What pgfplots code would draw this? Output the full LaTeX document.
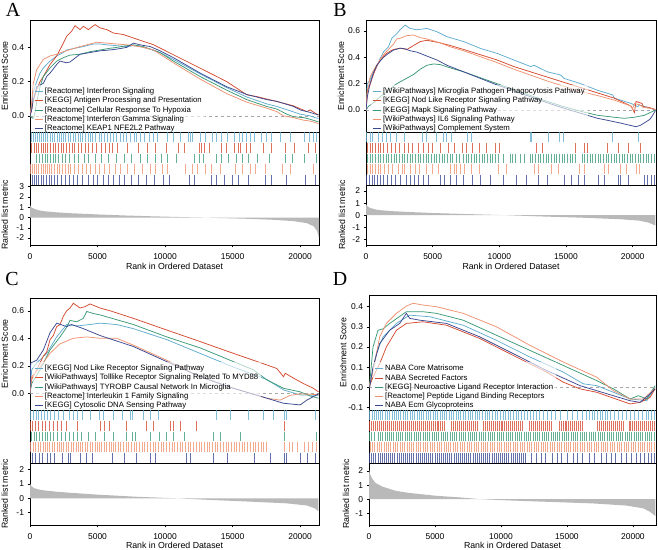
\documentclass[border=0pt]{standalone}
\usepackage{fontspec}
\setmainfont{Liberation Sans}
\newfontfamily\letterfont{Liberation Serif}
\usepackage{pgfplots}
\pgfplotsset{compat=1.18}
\definecolor{lb}{RGB}{96,172,206}
\definecolor{rd}{RGB}{213,73,46}
\definecolor{gr}{RGB}{58,153,118}
\definecolor{sa}{RGB}{238,146,112}
\definecolor{nv}{RGB}{58,72,146}
\pgfplotsset{
  base/.style={scale only axis, anchor=north west, axis line style={line width=0.6pt},
    tick align=outside, major tick length=2.5pt, every tick/.style={black,line width=0.5pt},
    /pgf/number format/assume math mode=true,
    tick label style={font=\fontsize{8.5}{10}\selectfont},
    label style={font=\fontsize{8.8}{10}\selectfont}, xmin=0},
  es/.style={base, xtick=\empty, ytick pos=left, ylabel={Enrichment Score},
    yticklabel style={/pgf/number format/.cd, fixed, fixed zerofill, precision=1},
    legend style={draw=none, fill=white, fill opacity=0.6, text opacity=1,
      font=\fontsize{7.8}{8}\selectfont, anchor=south west, row sep=-2pt, inner sep=1pt},
    legend cell align=left,
    legend image code/.code={\draw[##1, line width=0.9pt] (0bp,0bp) -- (8bp,0bp);},
    every axis plot/.append style={line width=0.75pt}},
  strip/.style={base, xtick=\empty, ytick=\empty, ymin=0, ymax=5, height=53bp},
  metric/.style={base, xtick={0,5000,10000,15000,20000}, xtick pos=bottom, ytick pos=left,
    xlabel={Rank in Ordered Dataset}, ylabel={Ranked list metric},
    xticklabel style={yshift=-2.5bp},
    /pgf/number format/1000 sep={}, scaled x ticks=false}
}
\newcommand{\hits}[3]{\addplot[#1, only marks, mark=|, mark size=4.9bp, mark options={line width=#2, opacity=0.78}] table[x index=0, y expr=#3, row sep=\\]}
\begin{document}
\begin{tikzpicture}
\path[use as bounding box] (0,0) rectangle (658bp,-550bp);
\node[font=\letterfont\fontsize{20}{20}\selectfont] at (13bp,-10bp) {A};
\node[font=\letterfont\fontsize{20}{20}\selectfont] at (340bp,-10bp) {B};
\node[font=\letterfont\fontsize{20}{20}\selectfont] at (12bp,-279bp) {C};
\node[font=\letterfont\fontsize{20}{20}\selectfont] at (340bp,-279bp) {D};

%================ PANEL A
\begin{axis}[es, at={(30bp,-20bp)}, width=289bp, height=112bp, xmax=21400, ymin=-0.094, ymax=0.56,
  ytick={0,0.2,0.4}, ylabel style={at={(axis description cs:-0.087,0.5)}, anchor=center},
  legend style={at={(0.01,-0.027)}}]
\addplot[gray!70, dashed, line width=0.6pt, forget plot] coordinates {(0,0) (21400,0)};
\addplot[lb] coordinates {(0,0) (124,0.06) (247,0.14) (494,0.2) (741,0.25) (988,0.28) (1482,0.32) (1976,0.35) (2470,0.37) (2717,0.385) (3335,0.395) (3952,0.405) (4693,0.42) (5187,0.42) (5681,0.415) (6422,0.41) (7164,0.405) (7657,0.41) (8151,0.405) (8892,0.39) (9633,0.37) (10621,0.33) (12597,0.245) (14573,0.165) (16055,0.11) (17537,0.07) (18278,0.055) (19266,0.03) (20007,0.01) (20748,0.0) (21100,-0.01) (21366,-0.015)};
\addlegendentry{[Reactome] Interferon Signaling}
\addplot[rd] coordinates {(0,0) (124,0.035) (247,0.094) (494,0.152) (741,0.2) (988,0.23) (1482,0.3) (1976,0.35) (2470,0.425) (2717,0.465) (3088,0.495) (3335,0.527) (3705,0.504) (3952,0.523) (4323,0.504) (4817,0.533) (5187,0.514) (5681,0.504) (6175,0.484) (6916,0.475) (7657,0.455) (8398,0.435) (9139,0.416) (9633,0.396) (10621,0.357) (12597,0.279) (14573,0.2) (16055,0.123) (16796,0.113) (18278,0.084) (19513,0.059) (20501,0.025) (20748,0.035) (21118,0.016) (21366,0.006)};
\addlegendentry{[KEGG] Antigen Processing and Presentation}
\addplot[gr] coordinates {(0,0) (124,-0.01) (247,-0.015) (370,0.02) (494,0.08) (741,0.17) (988,0.23) (1482,0.28) (1976,0.32) (2470,0.34) (2964,0.355) (3705,0.36) (4446,0.375) (5187,0.385) (5928,0.395) (6422,0.4) (7164,0.41) (7657,0.415) (8398,0.405) (8892,0.39) (9633,0.37) (10621,0.32) (12597,0.23) (14573,0.15) (16055,0.095) (17537,0.055) (18278,0.04) (19019,0.01) (19513,-0.005) (20254,-0.01) (20748,-0.02) (21366,-0.035)};
\addlegendentry{[Reactome] Cellular Response To Hypoxia}
\addplot[sa] coordinates {(0,0) (124,0.08) (247,0.19) (494,0.27) (741,0.3) (988,0.33) (1482,0.35) (1976,0.36) (2470,0.375) (3088,0.39) (3705,0.405) (4446,0.42) (4940,0.43) (5681,0.425) (6422,0.42) (7164,0.415) (7657,0.41) (8398,0.4) (9139,0.385) (9633,0.36) (10621,0.31) (12597,0.215) (14573,0.13) (16055,0.08) (17537,0.045) (18278,0.025) (18772,0.0) (19513,-0.01) (20254,-0.025) (20748,-0.03) (21366,-0.045)};
\addlegendentry{[Reactome] Interferon Gamma Signaling}
\addplot[nv] coordinates {(0,0) (124,0.035) (247,0.09) (494,0.17) (741,0.18) (988,0.19) (1235,0.23) (1482,0.25) (1976,0.3) (2223,0.32) (2717,0.31) (2964,0.315) (3458,0.345) (3705,0.36) (4446,0.37) (5187,0.38) (5928,0.385) (6422,0.39) (7164,0.4) (7657,0.425) (8151,0.415) (8892,0.405) (9633,0.38) (10621,0.34) (12597,0.25) (14573,0.17) (16055,0.125) (17537,0.095) (18278,0.085) (19513,0.055) (20007,0.035) (20748,0.02) (21366,0.005)};
\addlegendentry{[Reactome] KEAP1 NFE2L2 Pathway}
\end{axis}
\begin{axis}[strip, at={(30bp,-132bp)}, width=289bp, xmax=21400]
\hits{lb}{0.6pt}{4.5}{x\\80\\250\\400\\520\\700\\850\\1000\\1150\\1300\\1500\\1650\\1800\\2000\\2150\\2300\\2500\\2650\\2850\\3000\\3200\\3350\\3550\\3700\\3900\\4100\\4300\\4450\\4650\\4850\\5100\\5300\\5500\\5750\\5950\\6200\\6400\\6650\\6900\\7100\\7400\\7700\\7900\\8200\\8500\\8800\\9100\\9400\\10200\\10600\\11100\\11700\\11850\\12000\\12600\\13000\\13500\\13800\\14200\\14600\\15100\\15500\\15700\\16000\\16300\\16600\\17100\\17500\\17900\\18500\\19300\\20300\\20700\\21000\\21200\\};
\hits{rd}{0.6pt}{3.5}{x\\100\\300\\450\\600\\800\\950\\1150\\1300\\1500\\1700\\1900\\2100\\2300\\2500\\2700\\2900\\3100\\3300\\3600\\3800\\4100\\4300\\4600\\4900\\5300\\5600\\5900\\6100\\6500\\7200\\8000\\8700\\9300\\10100\\11000\\11400\\12500\\12700\\12900\\13300\\14200\\14500\\15100\\15400\\15600\\16000\\16300\\17300\\17900\\18900\\19600\\20600\\21100\\};
\hits{gr}{0.6pt}{2.5}{x\\500\\700\\900\\1100\\1300\\1500\\1700\\1900\\2100\\2400\\2600\\2900\\3300\\3600\\4000\\4300\\4800\\5300\\5800\\6400\\7000\\7500\\8200\\8700\\9300\\9700\\10200\\10800\\12200\\12500\\12800\\13800\\14200\\14700\\15300\\15700\\16200\\16800\\17700\\18900\\19400\\20300\\21200\\};
\hits{sa}{0.6pt}{1.5}{x\\50\\200\\350\\500\\650\\800\\950\\1100\\1250\\1400\\1600\\1800\\2000\\2200\\2400\\2600\\2800\\3000\\3300\\3600\\3900\\4200\\4500\\4800\\5100\\5500\\5900\\6300\\6700\\7200\\7700\\8300\\8900\\9300\\9800\\10200\\11500\\12000\\12400\\13000\\13400\\14100\\15200\\15700\\16300\\16700\\17400\\18700\\19300\\21000\\};
\hits{nv}{0.6pt}{0.5}{x\\150\\300\\450\\650\\800\\1000\\1200\\1400\\1600\\1800\\2000\\2300\\2600\\2900\\3200\\3500\\3900\\4300\\4700\\5000\\5400\\5800\\6200\\6600\\7000\\7500\\8000\\8600\\9200\\9900\\10300\\11800\\12200\\13400\\13800\\14400\\15000\\15400\\16200\\17400\\17900\\19000\\20400\\21100\\};
\end{axis}
\begin{axis}[metric, at={(30bp,-185bp)}, width=289bp, height=60bp, xmax=21400, ymin=-2.68, ymax=3.17,
  ytick={-2,-1,0,1,2,3}, ylabel style={at={(axis description cs:-0.087,0.5)}, anchor=center},
  xlabel style={at={(axis description cs:0.5,-0.36)}, anchor=center}]
\addplot[fill=gray!55, draw=none] coordinates {(0,1.2) (100,1.0) (300,0.85) (600,0.72) (1000,0.62) (2000,0.5) (3000,0.42) (5000,0.3) (7000,0.2) (9000,0.12) (11000,0.05) (12800,0) (14000,-0.05) (16000,-0.12) (18000,-0.22) (19500,-0.35) (20500,-0.55) (21000,-0.85) (21250,-1.3) (21400,-1.95)} \closedcycle;
\end{axis}

%================ PANEL B
\begin{axis}[es, at={(366bp,-20bp)}, width=290bp, height=112bp, xmax=21750, ymin=-0.167, ymax=0.684,
  ytick={0,0.2,0.4,0.6}, ylabel style={at={(axis description cs:-0.086,0.5)}, anchor=center},
  legend style={at={(0.017,-0.027)}}]
\addplot[gray!70, dashed, line width=0.6pt, forget plot] coordinates {(0,0) (21750,0)};
\addplot[lb] coordinates {(0,0) (100,0.2) (301,0.23) (552,0.29) (803,0.33) (1054,0.39) (1305,0.44) (1682,0.48) (1933,0.545) (2309,0.58) (2560,0.61) (2937,0.645) (3313,0.62) (3815,0.61) (4568,0.62) (5321,0.595) (6074,0.557) (7329,0.52) (8584,0.468) (9839,0.43) (11094,0.38) (12349,0.33) (12600,0.34) (13604,0.29) (14608,0.266) (14859,0.24) (16114,0.2) (17369,0.15) (18500,0.115) (18624,0.09) (19879,0.05) (20381,0.025) (20500,0.04) (21700,0)};
\addlegendentry{[WikiPathways] Microglia Pathogen Phagocytosis Pathway}
\addplot[rd] coordinates {(0,0) (100,0.15) (301,0.19) (552,0.27) (803,0.33) (1054,0.38) (1305,0.41) (1682,0.44) (2058,0.46) (2560,0.47) (3063,0.46) (3564,0.49) (4066,0.52) (4568,0.53) (5070,0.52) (5572,0.51) (6325,0.49) (7329,0.46) (8584,0.42) (9839,0.38) (11094,0.33) (12349,0.29) (13604,0.25) (14859,0.21) (16114,0.17) (17369,0.13) (18624,0.09) (19879,0.03) (20130,-0.02) (20250,0.065) (20700,0.05) (20800,0.025) (21200,0.02) (21700,0.005)};
\addlegendentry{[KEGG] Nod Like Receptor Signaling Pathway}
\addplot[gr] coordinates {(0,0) (200,0.03) (500,0.05) (1054,0.1) (1682,0.15) (2309,0.2) (2937,0.235) (3564,0.27) (4066,0.31) (4568,0.34) (5070,0.35) (5572,0.345) (6325,0.32) (7329,0.29) (8584,0.245) (9839,0.2) (11094,0.155) (12349,0.11) (13604,0.065) (14859,0.025) (16114,-0.01) (17369,-0.04) (18624,-0.055) (19377,-0.063) (20130,-0.055) (20883,-0.04) (21300,-0.02) (21700,0)};
\addlegendentry{[KEGG] Mapk Signaling Pathway}
\addplot[sa] coordinates {(0,0) (100,0.12) (301,0.25) (552,0.3) (803,0.34) (1054,0.38) (1305,0.42) (1682,0.46) (2058,0.5) (2309,0.54) (2560,0.545) (3063,0.565) (3564,0.57) (4066,0.55) (4568,0.54) (5070,0.525) (5572,0.51) (6325,0.48) (7329,0.45) (8584,0.405) (9839,0.36) (11094,0.31) (12349,0.265) (13604,0.22) (14859,0.18) (16114,0.14) (17369,0.11) (18624,0.075) (19879,0.03) (20000,0.01) (20130,0.05) (20500,0.04) (20800,0.02) (21200,0.015) (21700,0.005)};
\addlegendentry{[WikiPathways] IL6 Signaling Pathway}
\addplot[nv] coordinates {(0,0) (100,0.1) (301,0.2) (552,0.28) (803,0.34) (1054,0.37) (1305,0.4) (1682,0.43) (2058,0.455) (2560,0.47) (2937,0.465) (3313,0.45) (3815,0.44) (4568,0.41) (5321,0.38) (6074,0.34) (7329,0.29) (8584,0.24) (9839,0.19) (11094,0.145) (12349,0.1) (13604,0.055) (14859,0.013) (16114,-0.025) (17369,-0.063) (18200,-0.08) (19126,-0.1) (20256,-0.127) (20600,-0.115) (21000,-0.09) (21300,-0.07) (21500,-0.04) (21700,-0.005)};
\addlegendentry{[WikiPathways] Complement System}
\end{axis}
\begin{axis}[strip, at={(366bp,-132bp)}, width=290bp, xmax=21750]
\hits{lb}{0.6pt}{4.5}{x\\50\\300\\500\\900\\1200\\1500\\1800\\2300\\2900\\4200\\4500\\5300\\5800\\6000\\6400\\7600\\7900\\12300\\12400\\13700\\14500\\14800\\18500\\20400\\};
\hits{rd}{0.6pt}{3.5}{x\\100\\300\\500\\700\\900\\1100\\1300\\1600\\1900\\2200\\2500\\2900\\3200\\3500\\3900\\4300\\4700\\5000\\5600\\6200\\6600\\7200\\7500\\8000\\8500\\9000\\9700\\10000\\12800\\13200\\15700\\16400\\16600\\18100\\18900\\19700\\20600\\};
\hits{gr}{0.9pt}{2.5}{x\\100\\300\\500\\700\\900\\1100\\1300\\1500\\1700\\1900\\2100\\2300\\2500\\2700\\2900\\3100\\3300\\3500\\3700\\3900\\4100\\4300\\4500\\4700\\4900\\5100\\5300\\5500\\5700\\5900\\6100\\6300\\6500\\6800\\7000\\7300\\7500\\7700\\7900\\8100\\8300\\8500\\8700\\8900\\9100\\9300\\9500\\9700\\9900\\10300\\10800\\11000\\11200\\11600\\11900\\12300\\12500\\12700\\12900\\13100\\13300\\13500\\13700\\13900\\14100\\14300\\14500\\14700\\14900\\15100\\15300\\15500\\15700\\16200\\16400\\16600\\16800\\17000\\17200\\17400\\17600\\17800\\18000\\18200\\18400\\18600\\18800\\19000\\19200\\19400\\19600\\19800\\20000\\20200\\20400\\20600\\20800\\21000\\21200\\21400\\21600\\};
\hits{sa}{0.6pt}{1.5}{x\\100\\300\\500\\700\\900\\1100\\1400\\1700\\2000\\2400\\2700\\2900\\3300\\3700\\4000\\4500\\5000\\5400\\6300\\6600\\6800\\7100\\7400\\7900\\8500\\9900\\10500\\12600\\12900\\13900\\14400\\16000\\16400\\17900\\18200\\19100\\19500\\20300\\20500\\};
\hits{nv}{0.6pt}{0.5}{x\\50\\250\\450\\650\\850\\1050\\1300\\1600\\1900\\2200\\2600\\3000\\3300\\3600\\3900\\4300\\4700\\5600\\5900\\6300\\6800\\7300\\8000\\8600\\9300\\10300\\11300\\12000\\12900\\13600\\14900\\15400\\15900\\16400\\17400\\17900\\18900\\19100\\19700\\20900\\21100\\21400\\21600\\};
\end{axis}
\begin{axis}[metric, at={(366bp,-185bp)}, width=290bp, height=60bp, xmax=21750, ymin=-2.47, ymax=2.5,
  ytick={-2,-1,0,1,2}, ylabel style={at={(axis description cs:-0.083,0.5)}, anchor=center},
  xlabel style={at={(axis description cs:0.5,-0.36)}, anchor=center}]
\addplot[fill=gray!55, draw=none] coordinates {(0,0.9) (100,0.75) (300,0.6) (700,0.48) (1000,0.42) (2000,0.33) (3500,0.25) (5000,0.18) (8000,0.08) (10500,0) (13000,-0.1) (16000,-0.2) (19000,-0.33) (20500,-0.45) (21200,-0.62) (21700,-0.85)} \closedcycle;
\end{axis}

%================ PANEL C
\begin{axis}[es, at={(30bp,-298bp)}, width=289bp, height=112bp, xmax=21400, ymin=-0.122, ymax=0.693,
  ytick={0,0.2,0.4,0.6}, ylabel style={at={(axis description cs:-0.087,0.5)}, anchor=center},
  legend style={at={(0.01,-0.018)}}]
\addplot[gray!70, dashed, line width=0.6pt, forget plot] coordinates {(0,0) (21400,0)};
\addplot[lb] coordinates {(0,0) (124,0.17) (494,0.22) (1235,0.29) (1976,0.41) (2717,0.5) (3500,0.49) (4446,0.5) (5187,0.51) (6422,0.5) (7657,0.47) (10127,0.39) (12597,0.29) (15067,0.19) (17537,0.1) (18772,0.024) (20007,-0.012) (21366,-0.015)};
\addlegendentry{[KEGG] Nod Like Receptor Signaling Pathway}
\addplot[rd] coordinates {(0,0) (124,0.1) (494,0.17) (988,0.27) (1235,0.3) (1482,0.39) (1729,0.42) (1976,0.485) (2223,0.5) (2470,0.56) (2717,0.6) (2964,0.62) (3211,0.655) (3705,0.62) (4076,0.63) (4446,0.65) (5187,0.62) (5928,0.6) (7657,0.545) (10127,0.46) (12597,0.376) (15067,0.29) (17537,0.206) (18278,0.18) (18772,0.12) (18900,0.145) (19513,0.11) (20254,0.07) (21000,0.035) (21366,0.01)};
\addlegendentry{[WikiPathways] Tolllike Receptor Signaling Related To MYD88}
\addplot[gr] coordinates {(0,0) (124,0.07) (741,0.17) (1482,0.315) (2223,0.41) (2717,0.48) (2964,0.53) (3458,0.52) (3952,0.545) (4200,0.595) (4693,0.58) (5187,0.57) (7657,0.5) (10127,0.41) (12597,0.33) (15067,0.23) (16549,0.17) (17537,0.097) (18772,0.036) (20007,0.01) (20748,-0.02) (21366,-0.036)};
\addlegendentry{[WikiPathways] TYROBP Causal Network In Microglia}
\addplot[sa] coordinates {(0,0) (124,0.12) (741,0.19) (1482,0.29) (2223,0.36) (3211,0.4) (4199,0.41) (5187,0.4) (6422,0.4) (7657,0.35) (10127,0.24) (12597,0.12) (15067,0.036) (17537,-0.036) (18525,-0.05) (19266,-0.015) (20007,-0.005) (21366,-0.01)};
\addlegendentry{[Reactome] Interleukin 1 Family Signaling}
\addplot[nv] coordinates {(0,0) (50,0.22) (494,0.24) (988,0.315) (1482,0.44) (1976,0.51) (2717,0.485) (3088,0.5) (3952,0.47) (5187,0.42) (7657,0.34) (10127,0.23) (12597,0.12) (15067,0.036) (17537,-0.036) (18772,-0.073) (20007,-0.085) (20501,-0.05) (21366,-0.005)};
\addlegendentry{[KEGG] Cytosolic DNA Sensing Pathway}
\end{axis}
\begin{axis}[strip, at={(30bp,-410bp)}, width=289bp, xmax=21400]
\hits{lb}{0.6pt}{4.5}{x\\50\\250\\450\\650\\850\\1050\\1250\\1500\\1800\\2100\\2500\\2900\\3200\\3500\\3900\\4500\\5100\\5400\\6200\\6800\\7400\\7600\\8400\\8900\\9500\\13800\\14800\\16200\\17300\\18000\\18800\\19000\\21100\\};
\hits{rd}{0.6pt}{3.5}{x\\50\\200\\400\\600\\900\\1100\\1400\\1700\\2000\\2300\\2700\\3500\\5200\\5500\\5900\\7100\\8600\\9100\\10400\\10600\\11100\\12300\\18800\\};
\hits{gr}{0.6pt}{2.5}{x\\100\\300\\500\\700\\900\\1100\\1300\\1500\\1700\\2000\\2300\\2600\\2900\\3200\\3500\\3800\\4300\\4800\\5500\\6200\\7100\\7600\\7800\\8900\\9600\\10100\\10600\\11400\\13600\\14100\\15600\\18800\\21200\\};
\hits{sa}{0.6pt}{1.5}{x\\50\\250\\400\\600\\750\\950\\1100\\1300\\1450\\1650\\1800\\2000\\2150\\2350\\2500\\2700\\2850\\3050\\3200\\3400\\3550\\3750\\3900\\4100\\4250\\4450\\4600\\4800\\4950\\5150\\5300\\5500\\5650\\5850\\6000\\6200\\6350\\6550\\6700\\6900\\7100\\7300\\7500\\7700\\7900\\8100\\8300\\8500\\8700\\8900\\9100\\9300\\9500\\9700\\9900\\10100\\10300\\10500\\10700\\10900\\11100\\11300\\11500\\11700\\11900\\12100\\12300\\12500\\12700\\12900\\13100\\13300\\13500\\13700\\13900\\14100\\14300\\14500\\14700\\14900\\15100\\15300\\15500\\15700\\15900\\16100\\16300\\16500\\16700\\16900\\17100\\17300\\17500\\18800\\19200\\19400\\19800\\20300\\20600\\20900\\21200\\};
\hits{nv}{0.6pt}{0.5}{x\\150\\400\\700\\900\\1300\\1500\\1800\\2400\\2800\\3000\\3700\\4200\\4600\\6100\\7000\\7900\\8900\\9300\\11600\\11900\\13600\\14600\\16600\\17800\\18800\\19000\\20000\\20500\\21100\\};
\end{axis}
\begin{axis}[metric, at={(30bp,-463bp)}, width=289bp, height=62bp, xmax=21400, ymin=-1.85, ymax=2.44,
  ytick={-1,0,1,2}, ylabel style={at={(axis description cs:-0.087,0.5)}, anchor=center},
  xlabel style={at={(axis description cs:0.5,-0.325)}, anchor=center}]
\addplot[fill=gray!55, draw=none] coordinates {(0,1.0) (100,0.85) (300,0.7) (700,0.6) (1000,0.55) (2000,0.45) (3000,0.38) (5000,0.25) (8000,0.1) (10800,0) (13000,-0.1) (16000,-0.22) (19000,-0.35) (20500,-0.5) (21100,-0.7) (21350,-0.9)} \closedcycle;
\end{axis}

%================ PANEL D
\begin{axis}[es, at={(369bp,-295bp)}, width=287bp, height=115bp, xmax=21750, ymin=-0.113, ymax=0.458,
  ytick={-0.1,0,0.1,0.2,0.3,0.4}, ylabel style={at={(axis description cs:-0.09,0.5)}, anchor=center},
  legend style={at={(0.014,-0.018)}}]
\addplot[gray!70, dashed, line width=0.6pt, forget plot] coordinates {(0,0) (21750,0)};
\addplot[lb] coordinates {(0,0) (177,0.05) (557,0.167) (1063,0.25) (2075,0.317) (3087,0.358) (4605,0.35) (7135,0.308) (9665,0.233) (12195,0.15) (14725,0.075) (16243,0.017) (17255,0.008) (19785,-0.058) (21050,-0.067) (21682,0)};
\addlegendentry{NABA Core Matrisome}
\addplot[rd] coordinates {(0,0) (304,0.05) (810,0.117) (1316,0.2) (2075,0.283) (2834,0.317) (4099,0.325) (5870,0.308) (8400,0.242) (10930,0.158) (13460,0.075) (14725,0.025) (15990,-0.008) (17255,-0.025) (19785,-0.083) (20544,-0.075) (21303,-0.05) (21682,-0.008)};
\addlegendentry{NABA Secreted Factors}
\addplot[gr] coordinates {(0,0) (51,0.017) (304,0.2) (683,0.283) (1063,0.29) (1569,0.317) (2834,0.375) (4099,0.375) (5111,0.367) (7135,0.333) (9665,0.258) (12195,0.183) (14725,0.108) (17255,0.033) (18520,-0.008) (19785,-0.058) (20418,-0.042) (21050,-0.058) (21682,0.008)};
\addlegendentry{[KEGG] Neuroactive Ligand Receptor Interaction}
\addplot[sa] coordinates {(0,0) (51,0.017) (304,0.08) (810,0.25) (1316,0.317) (2075,0.367) (2834,0.403) (3340,0.417) (4099,0.408) (5111,0.4) (7135,0.367) (9665,0.3) (12195,0.208) (14725,0.125) (17255,0.05) (18520,-0.017) (19785,-0.058) (20797,-0.058) (21682,-0.005)};
\addlegendentry{[Reactome] Peptide Ligand Binding Receptors}
\addplot[nv] coordinates {(0,0) (51,0.0) (304,0.1) (810,0.217) (1569,0.283) (2328,0.317) (2834,0.367) (3087,0.342) (3846,0.333) (5870,0.317) (8400,0.25) (10930,0.167) (13460,0.083) (15990,0.008) (17255,-0.017) (19785,-0.067) (20544,-0.075) (21303,-0.033) (21682,-0.008)};
\addlegendentry{NABA Ecm Glycoproteins}
\end{axis}
\begin{axis}[strip, at={(369bp,-410bp)}, width=287bp, xmax=21750]
\hits{lb}{0.8pt}{4.5}{x\\60\\230\\380\\560\\700\\900\\1050\\1230\\1400\\1560\\1750\\1900\\2080\\2250\\2400\\2600\\2780\\2930\\3100\\3300\\3450\\3640\\3800\\3980\\4150\\4320\\4500\\4650\\4850\\5000\\5200\\5380\\5550\\5700\\5900\\6080\\6250\\6420\\6600\\6780\\6950\\7150\\7300\\7500\\7680\\7850\\8050\\8200\\8400\\8600\\8800\\9000\\9150\\9350\\9550\\9750\\9950\\10150\\10350\\10550\\10750\\10950\\11150\\11350\\11550\\11800\\12000\\12200\\12450\\12700\\12950\\13200\\13500\\13800\\14100\\14500\\15000\\15400\\15800\\16200\\16500\\16700\\16900\\17100\\17300\\17500\\17700\\17900\\18100\\18300\\18600\\18900\\19200\\19500\\19800\\20100\\20400\\20700\\21000\\21200\\21400\\21600\\};
\hits{rd}{0.9pt}{3.5}{x\\40\\200\\350\\500\\650\\800\\950\\1100\\1250\\1400\\1550\\1700\\1850\\2000\\2150\\2300\\2450\\2600\\2750\\2900\\3050\\3200\\3350\\3500\\3650\\3800\\3950\\4100\\4250\\4400\\4550\\4700\\4850\\5000\\5150\\5300\\5450\\5600\\5750\\6250\\6400\\6550\\6700\\6850\\7000\\7150\\7300\\7450\\7600\\7750\\7900\\8050\\8200\\8650\\8800\\8950\\9100\\9250\\9400\\9550\\9700\\9850\\10000\\10150\\10300\\10450\\10600\\10750\\10900\\11050\\11200\\11350\\11500\\11650\\12150\\12300\\12450\\12600\\12750\\12900\\13050\\13200\\13350\\13500\\13650\\13800\\14400\\14550\\14700\\14850\\15000\\15150\\15300\\15450\\15600\\15750\\15900\\16050\\16200\\17300\\17450\\17600\\17750\\17900\\18050\\18200\\18350\\18500\\18650\\18800\\18950\\19100\\19250\\19700\\19850\\20000\\20150\\20300\\20450\\20600\\20750\\20900\\21050\\21200\\21350\\21500\\21650\\};
\hits{gr}{0.9pt}{2.5}{x\\50\\220\\400\\700\\870\\1040\\1210\\1380\\1550\\1720\\1890\\2060\\2230\\2400\\2570\\2740\\2910\\3080\\3250\\3420\\3590\\3760\\3930\\4100\\4270\\4440\\4610\\4780\\4950\\5120\\5290\\5460\\5630\\5800\\5970\\6140\\6310\\6480\\6650\\6820\\6990\\7160\\7330\\7500\\7670\\7840\\8010\\8180\\8350\\8520\\8690\\8860\\9030\\9200\\9370\\9540\\9710\\9880\\10050\\10220\\10390\\10560\\10730\\10900\\11070\\11240\\11410\\11580\\11750\\11920\\12090\\12260\\12430\\12600\\12770\\12940\\13110\\13280\\13450\\13620\\13790\\13960\\14130\\14300\\14470\\14640\\14810\\14980\\15150\\15320\\15490\\15660\\15830\\16000\\16170\\16340\\16510\\16680\\16850\\17020\\17190\\17360\\17530\\17700\\17870\\18040\\18210\\18380\\18550\\18720\\18890\\19060\\19230\\19400\\19570\\19740\\19910\\20080\\20250\\20420\\20590\\20760\\20930\\21100\\21270\\21440\\21610\\};
\hits{sa}{0.8pt}{1.5}{x\\80\\260\\430\\600\\780\\950\\1130\\1300\\1480\\1650\\1830\\2000\\2180\\2350\\2530\\2700\\2880\\3050\\3230\\3400\\3580\\3750\\3930\\4100\\4280\\4450\\4630\\4800\\4980\\5150\\5330\\5500\\5680\\5850\\6030\\6200\\6380\\6550\\6730\\6900\\7080\\7250\\7430\\7600\\7780\\7950\\8130\\8300\\8480\\8650\\8830\\9000\\9180\\9350\\9530\\9700\\9880\\10050\\10230\\10400\\10580\\10750\\10930\\11100\\11280\\11450\\11630\\11800\\11980\\12150\\12330\\12500\\12680\\12850\\13030\\13200\\13380\\13550\\13730\\13900\\14080\\14250\\14430\\14600\\14780\\14950\\15130\\15300\\15480\\15650\\15830\\16000\\16180\\16350\\16530\\16700\\16880\\17050\\17230\\17400\\17580\\17750\\17930\\18100\\18280\\18450\\18630\\18800\\18980\\19150\\19330\\19500\\19680\\19850\\20030\\20200\\20380\\20550\\20730\\20900\\21080\\21250\\21430\\21600\\};
\hits{nv}{0.8pt}{0.5}{x\\40\\200\\360\\520\\680\\840\\1000\\1160\\1320\\1480\\1640\\1800\\1960\\2120\\2280\\2440\\2600\\2760\\2920\\3080\\3240\\3400\\3560\\3720\\3880\\4040\\4200\\4360\\4520\\4680\\4840\\5000\\5160\\5320\\5480\\5640\\5800\\5960\\6120\\6280\\6440\\6600\\6760\\6920\\7080\\7240\\7400\\7560\\7720\\7880\\8040\\8200\\8360\\8520\\8680\\8840\\9000\\9160\\9320\\9480\\9640\\9800\\9960\\10120\\10280\\10440\\10600\\10760\\10920\\11080\\11240\\11400\\11560\\11720\\11880\\12300\\12700\\13100\\13400\\13900\\14300\\14600\\15000\\15500\\15800\\16200\\16700\\17100\\17600\\18000\\18400\\18700\\19100\\19500\\19900\\20300\\20600\\20900\\21200\\21400\\21600\\};
\end{axis}
\begin{axis}[metric, at={(369bp,-463bp)}, width=287bp, height=62bp, xmax=21750, ymin=-1.83, ymax=2.57,
  ytick={-1,0,1,2}, ylabel style={at={(axis description cs:-0.08,0.5)}, anchor=center},
  xlabel style={at={(axis description cs:0.5,-0.325)}, anchor=center}]
\addplot[fill=gray!55, draw=none] coordinates {(0,2.1) (80,1.8) (250,1.45) (500,1.15) (1000,0.9) (2000,0.6) (3000,0.45) (5000,0.25) (7000,0.12) (8500,0) (11000,-0.1) (14000,-0.2) (17000,-0.3) (19500,-0.45) (20800,-0.65) (21300,-0.9) (21700,-1.2)} \closedcycle;
\end{axis}
\end{tikzpicture}
\end{document}
